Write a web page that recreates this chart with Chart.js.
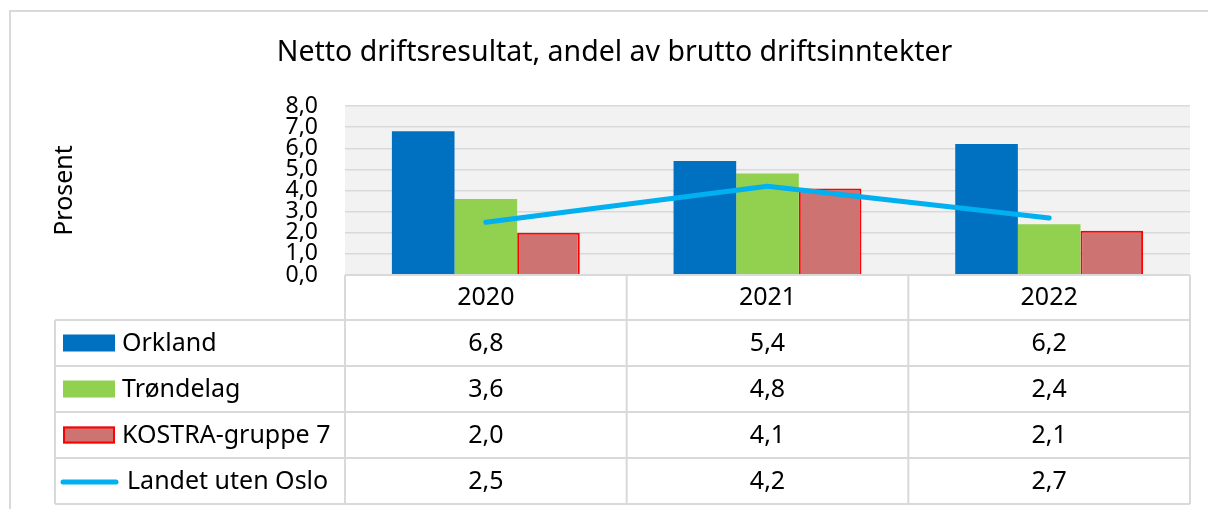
<!DOCTYPE html>
<html>
<head>
<meta charset="utf-8">
<script src="https://cdn.jsdelivr.net/npm/chart.js@4/dist/chart.umd.min.js"></script>
<style>
  html, body { margin: 0; padding: 0; background: #fff; }
  #wrap { position: relative; width: 1208px; height: 509px; }
</style>
</head>
<body>
<div id="wrap"><canvas id="c"></canvas></div>
<script>
const categories = ['2020', '2021', '2022'];
const seriesNames = ['Orkland', 'Trøndelag', 'KOSTRA-gruppe 7', 'Landet uten Oslo'];
const orkland = [6.8, 5.4, 6.2];
const trondelag = [3.6, 4.8, 2.4];
const kostra = [2.0, 4.1, 2.1];
const landet = [2.5, 4.2, 2.7];
const yTicks = [0, 1, 2, 3, 4, 5, 6, 7, 8];

const FONT = "'Noto Sans', 'DejaVu Sans', sans-serif";
const fmt = v => v.toFixed(1).replace('.', ',');

const bgPlugin = {
  id: 'bg',
  beforeDraw(chart) {
    const { ctx, chartArea: a } = chart;
    ctx.save();
    ctx.fillStyle = '#f2f2f2';
    ctx.fillRect(a.left, a.top, a.right - a.left, a.bottom - a.top);
    ctx.restore();
  }
};

const tablePlugin = {
  id: 'dataTable',
  afterDraw(chart) {
    const { ctx, chartArea: a } = chart;
    const xs = chart.scales.x;
    const n = chart.data.labels.length;
    const cw = (a.right - a.left) / n;
    const colX = [];
    for (let i = 0; i <= n; i++) colX.push(a.left + i * cw);
    const legLeft = 55;
    const headH = 45, rowH = 46;
    const top = a.bottom;
    const rowY = [top, top + headH];
    const ds = chart.data.datasets;
    for (let r = 0; r < ds.length; r++) rowY.push(rowY[rowY.length - 1] + rowH);
    const bottom = rowY[rowY.length - 1];

    ctx.save();
    ctx.strokeStyle = '#d9d9d9';
    ctx.lineWidth = 2;
    ctx.beginPath();
    ctx.moveTo(a.left, rowY[0]); ctx.lineTo(a.right, rowY[0]);
    for (let i = 1; i < rowY.length; i++) {
      ctx.moveTo(legLeft, rowY[i]); ctx.lineTo(a.right, rowY[i]);
    }
    ctx.moveTo(legLeft, rowY[1]); ctx.lineTo(legLeft, bottom);
    for (const x of colX) { ctx.moveTo(x, rowY[0]); ctx.lineTo(x, bottom); }
    ctx.stroke();

    ctx.fillStyle = '#000';
    ctx.font = "25px " + FONT;
    ctx.textBaseline = 'middle';
    ctx.textAlign = 'center';
    chart.data.labels.forEach((lab, i) => {
      ctx.fillText(lab, xs.getPixelForValue(i), (rowY[0] + rowY[1]) / 2);
    });
    ds.forEach((d, r) => {
      const cy = (rowY[r + 1] + rowY[r + 2]) / 2;
      ctx.fillStyle = '#000';
      ctx.textAlign = 'center';
      d.data.forEach((v, i) => ctx.fillText(fmt(v), xs.getPixelForValue(i), cy + 1));
      if (d.type === 'line') {
        ctx.strokeStyle = d.borderColor;
        ctx.lineWidth = 5;
        ctx.lineCap = 'round';
        ctx.beginPath();
        ctx.moveTo(63, cy + 1); ctx.lineTo(116, cy + 1);
        ctx.stroke();
        ctx.textAlign = 'left';
        ctx.fillText(d.label, 127, cy + 1);
      } else {
        ctx.fillStyle = d.backgroundColor;
        ctx.fillRect(63, cy - 8.5, 52, 17);
        if (d.borderWidth) {
          ctx.strokeStyle = d.borderColor;
          ctx.lineWidth = 2;
          ctx.strokeRect(64, cy - 7.5, 50, 15);
        }
        ctx.fillStyle = '#000';
        ctx.textAlign = 'left';
        ctx.fillText(d.label, 122, cy + 1);
      }
    });

    // outer chart border
    ctx.strokeStyle = '#d9d9d9';
    ctx.lineWidth = 2;
    ctx.beginPath();
    ctx.moveTo(10, 509); ctx.lineTo(10, 11); ctx.lineTo(1208, 11);
    ctx.stroke();
    ctx.restore();
  }
};

new Chart(document.getElementById('c'), {
  data: {
    labels: categories,
    datasets: [
      { type: 'bar', label: seriesNames[0], data: orkland, backgroundColor: '#0070c0', borderWidth: 0, order: 1 },
      { type: 'bar', label: seriesNames[1], data: trondelag, backgroundColor: '#92d050', borderWidth: 0, order: 1 },
      { type: 'bar', label: seriesNames[2], data: kostra, backgroundColor: '#cd7371', borderColor: '#ff0000',
        borderWidth: 2, borderSkipped: 'bottom', order: 1 },
      { type: 'line', label: seriesNames[3], data: landet, borderColor: '#00b0f0',
        borderWidth: 5, borderCapStyle: 'round', borderJoinStyle: 'round',
        pointRadius: 0, tension: 0, order: 0 }
    ]
  },
  options: {
    responsive: true,
    maintainAspectRatio: false,
    animation: false,
    events: [],
    datasets: { bar: { categoryPercentage: 0.667, barPercentage: 1.0 } },
    layout: { padding: { left: 39, right: 18, top: 0, bottom: 234 } },
    plugins: {
      legend: { display: false },
      tooltip: { enabled: false },
      title: {
        display: true,
        text: 'Netto driftsresultat, andel av brutto driftsinntekter',
        color: '#000',
        font: { family: FONT, size: 28.5, weight: 'normal', lineHeight: 1.2 },
        padding: { top: 36, bottom: 35.8 }
      }
    },
    scales: {
      x: { display: false, offset: true },
      y: {
        min: 0, max: 8,
        afterBuildTicks(scale) { scale.ticks = yTicks.map(v => ({ value: v })); },
        afterFit(scale) { scale.width = 306; },
        ticks: {
          autoSkip: false,
          color: '#000',
          padding: 27,
          font: { family: FONT, size: 23, lineHeight: 1 },
          callback: v => fmt(v)
        },
        grid: { color: '#d9d9d9', lineWidth: 1.5, drawTicks: false },
        border: { display: false },
        title: {
          display: true,
          text: 'Prosent',
          color: '#000',
          font: { family: FONT, size: 25, lineHeight: 1.2 },
          padding: { top: 11, bottom: 0 }
        }
      }
    }
  },
  plugins: [bgPlugin, tablePlugin]
});
</script>
</body>
</html>
